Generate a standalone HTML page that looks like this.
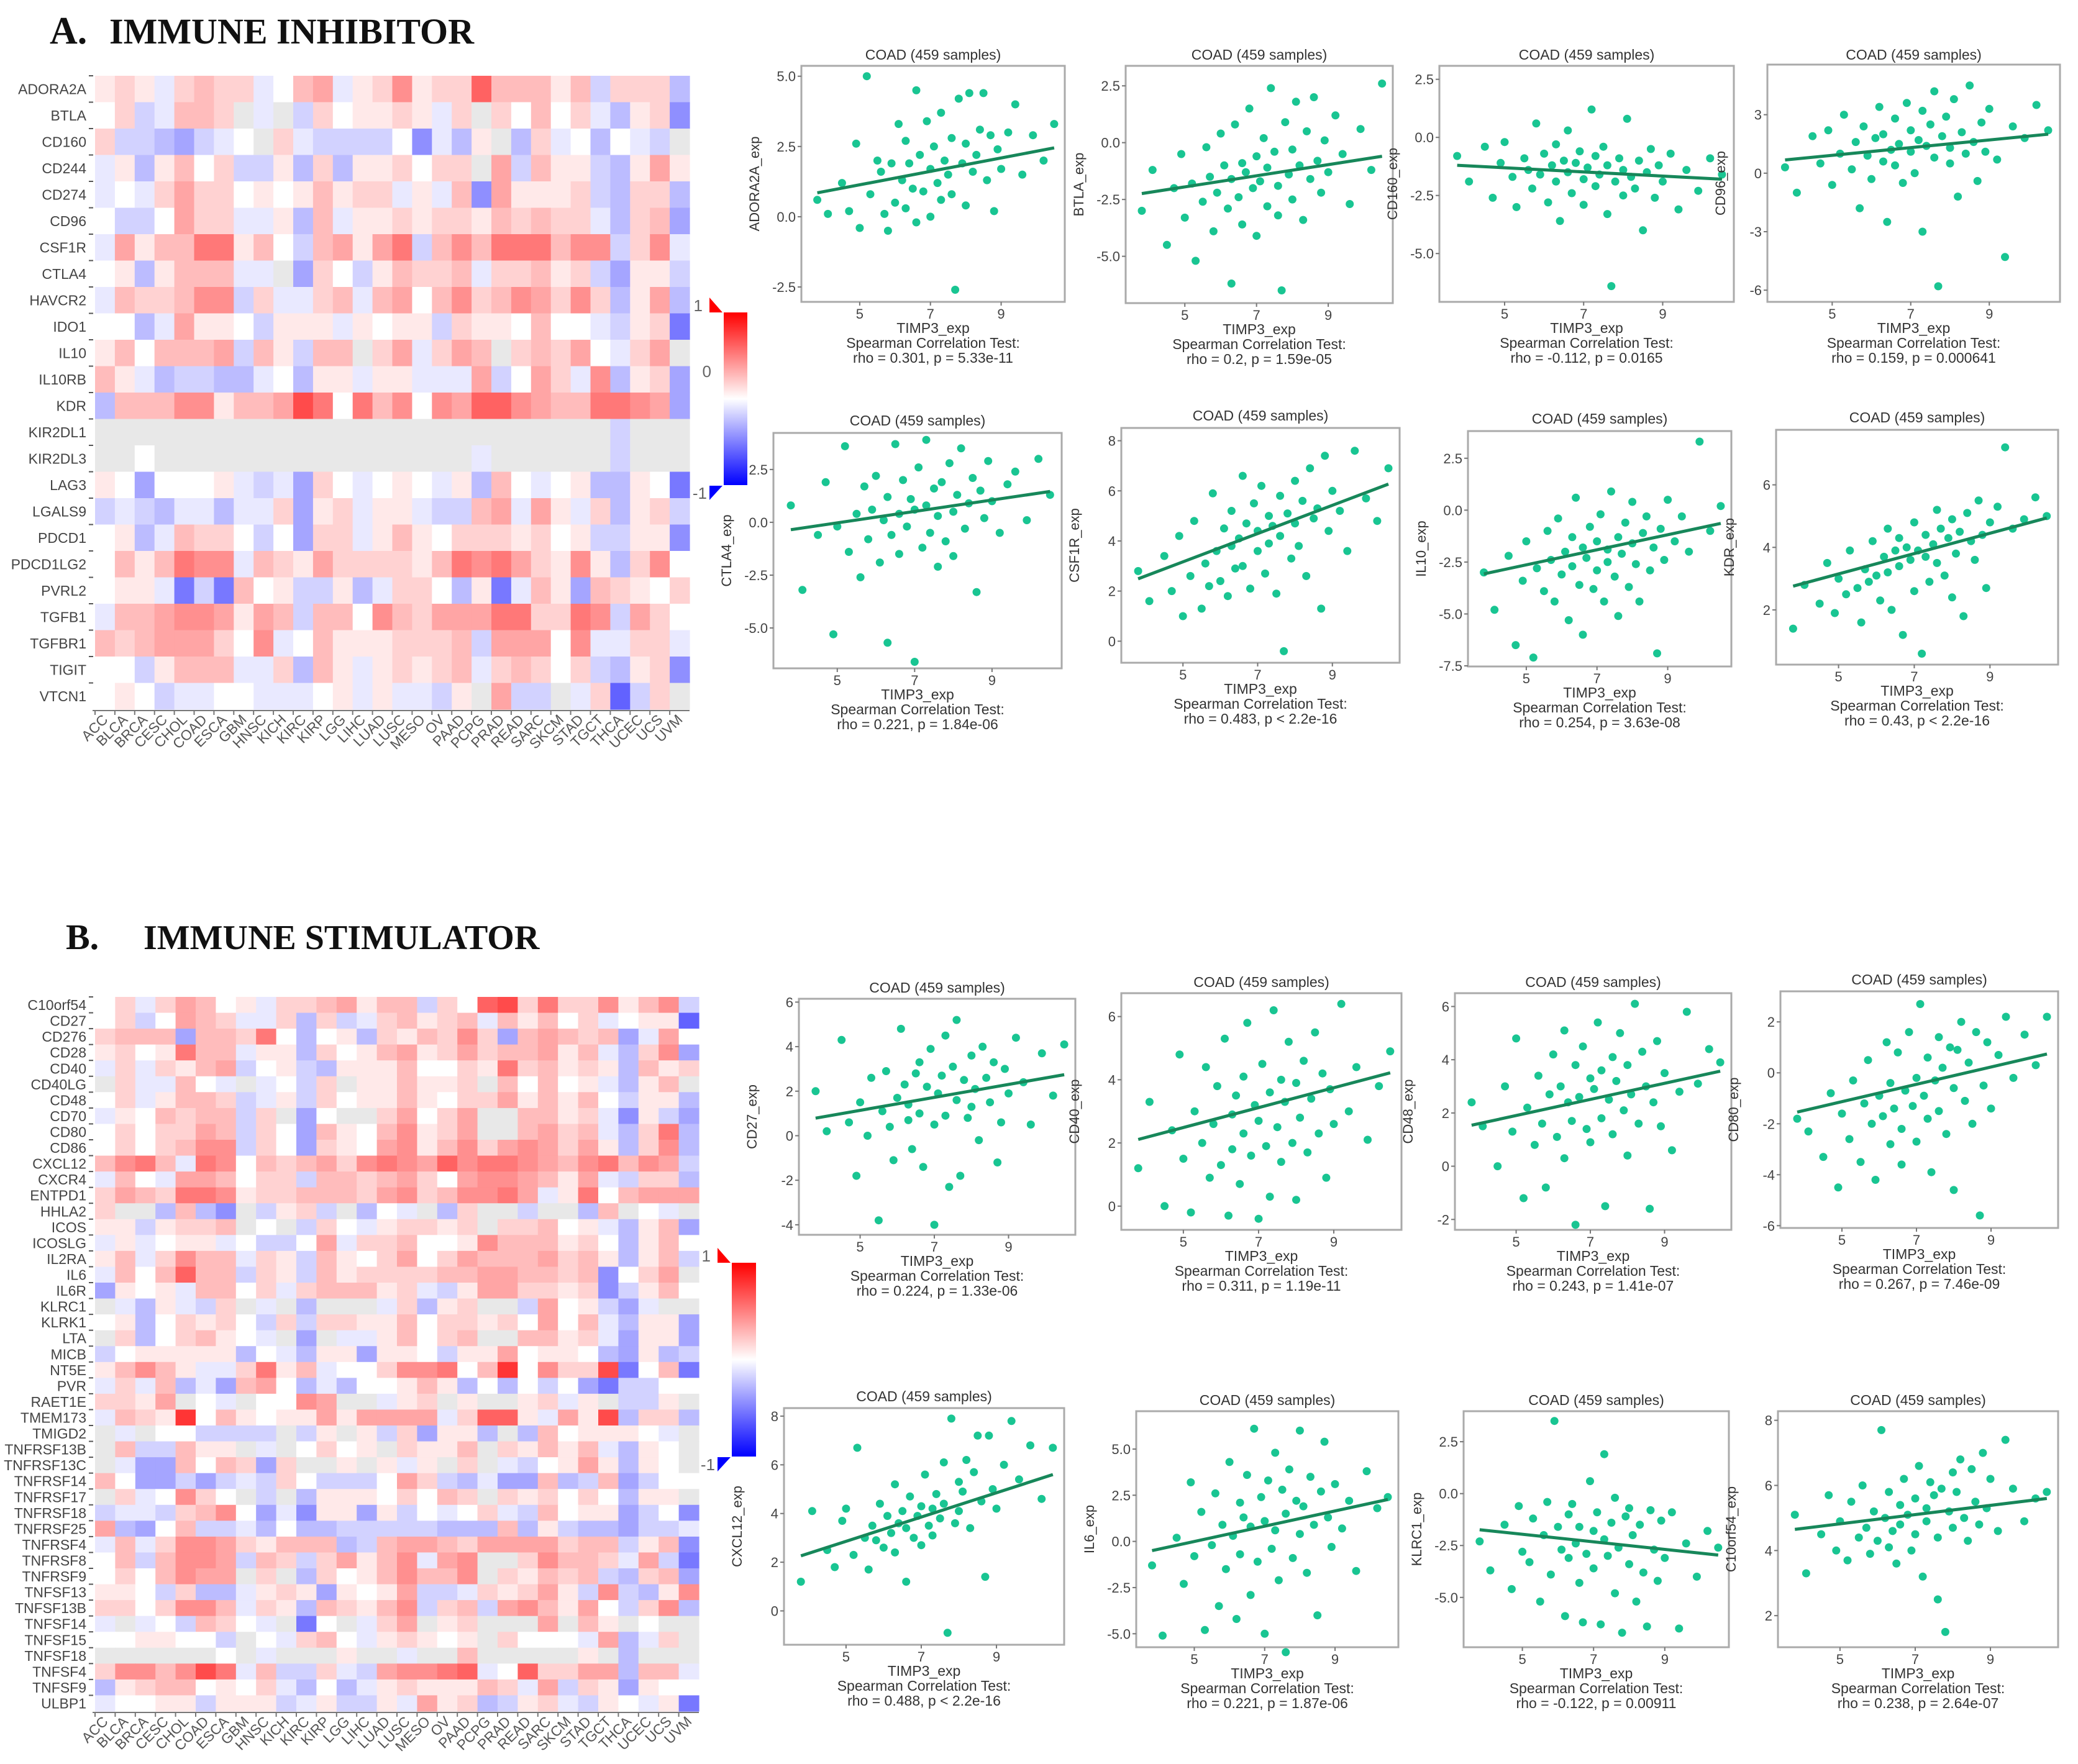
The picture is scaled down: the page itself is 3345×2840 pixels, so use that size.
<!DOCTYPE html>
<html><head><meta charset="utf-8"><style>
html,body{margin:0;padding:0;background:#fff;}
svg{display:block;font-family:"Liberation Sans",sans-serif;}
</style></head><body>
<svg id="fig" width="3345" height="2840" viewBox="0 0 3345 2840" xmlns="http://www.w3.org/2000/svg">
<rect width="3345" height="2840" fill="#fff"/>
<g font-family="Liberation Serif,serif" font-weight="bold" fill="#111">
<text x="80" y="70" font-size="62">A.</text>
<text x="176" y="70" font-size="58">IMMUNE  INHIBITOR</text>
</g>
<g font-family="Liberation Serif,serif" font-weight="bold" fill="#111">
<text x="106" y="1528" font-size="58">B.</text>
<text x="231" y="1528" font-size="56">IMMUNE  STIMULATOR</text>
</g>
<defs>
<linearGradient id="cbg" x1="0" y1="0" x2="0" y2="1">
<stop offset="0" stop-color="#ff0000"/><stop offset="0.5" stop-color="#ffffff"/><stop offset="1" stop-color="#0000ff"/>
</linearGradient>
</defs>
<g id="layer"></g>
</svg>
<script>
// ---------- Heatmap data ----------
const cancers = ["ACC","BLCA","BRCA","CESC","CHOL","COAD","ESCA","GBM","HNSC","KICH","KIRC","KIRP","LGG","LIHC","LUAD","LUSC","MESO","OV","PAAD","PCPG","PRAD","READ","SARC","SKCM","STAD","TGCT","THCA","UCEC","UCS","UVM"];
const inhibGenes = ["ADORA2A","BTLA","CD160","CD244","CD274","CD96","CSF1R","CTLA4","HAVCR2","IDO1","IL10","IL10RB","KDR","KIR2DL1","KIR2DL3","LAG3","LGALS9","PDCD1","PDCD1LG2","PVRL2","TGFB1","TGFBR1","TIGIT","VTCN1"];
// codes: '0'-'9' => +0..+0.9 ; 'a'-'i' => -0.1..-0.9 ; 'x' => NA (grey)
const inhibValues = [
"121a2322a034a125122733313b222c",
"02ba332xaxb201121a2x20302ac12e",
"2bbcdba0x2abbbb0eac1xc2a0c0abx",
"a1c1302bb1c2c112022x4b311bc141",
"a0a242201013122a1a3e41112bc22c",
"0bb0422aa1c3a112122132322ac23d",
"a413366130b34146b353666355b25a",
"01c1333aaxd20b13223a22312bd11b",
"a322355b2aa23a340352354252c14c",
"00ca4110b111a1011b2110300ab12f",
"1303334b31b33x24a243x23240a24x",
"31acbbcca0c11a11aaa4b042a5c12d",
"c3335513348606350547754336654d",
"xxxxxxxxxxxxxxxxxxxxxxxxxxbxxx",
"xx0xxxxxxxxxxxxxxxxaxxxxxxbxxx",
"10d0001abad20a010a1c30a01cc10f",
"babcaacaa2d12a11abb34a41a2c12b",
"01ca3220b0d22a13102221201bb11e",
"0313655a321422221365642151c250",
"011afbf301bb1ca220c1fa31d32102",
"a334554143b330532444662265b420",
"323444205a031112223b44405aa22a",
"00b1333aa2c31a12123a23202bc12e",
"010baa00aaa01a1aab1x4bbxa2gb2x"];
const stimGenes = ["C10orf54","CD27","CD276","CD28","CD40","CD40LG","CD48","CD70","CD80","CD86","CXCL12","CXCR4","ENTPD1","HHLA2","ICOS","ICOSLG","IL2RA","IL6","IL6R","KLRC1","KLRK1","LTA","MICB","NT5E","PVR","RAET1E","TMEM173","TMIGD2","TNFRSF13B","TNFRSF13C","TNFRSF14","TNFRSF17","TNFRSF18","TNFRSF25","TNFRSF4","TNFRSF8","TNFRSF9","TNFSF13","TNFSF13B","TNFSF14","TNFSF15","TNFSF18","TNFSF4","TNFSF9","ULBP1"];
const stimValues = [
"02a24301a2234133b207826225135b",
"02b0432aa2c2ba23123a31302a011g",
"2333d33260c01c213252d34323da40",
"1201633a11c20134124233413ac25d",
"a2a2134b01bc11130021623121c312",
"x2aa30axa0b2x113112x30301ac13x",
"02a1332ba1b201131022413130b11c",
"a103233b2xd0xx24024xx3312ae1bd",
"0202243b20d31035124xx3423ac26c",
"0202355b20d210451352454241c25c",
"3563a650323425654756654356354b",
"a30a443022b33234204554314ab22c",
"2432665122333245235564a1603444",
"2xxc3cexb12bxc0axc2xxbxxc3x0ax",
"11b1223x0xb20a12212x22301ac13d",
"a1a011a0bb04a2230015333120c130",
"13a2533a21b310240243334231c13b",
"a303733b21b31222233443323e024x",
"d101a3302a233312ab1442212eb130",
"xac1ab2xaxcxxxa2c12xxb401bdaxx",
"01c02120b2b22113022120403ac11d",
"x2c02310axdxaa13023xx3312ad11d",
"b011111c0ac11d110b1140110cd1cb",
"13531aa2613a00255603905228f03f",
"a2a3cad340cac00131c0c0b0dfbb00",
"2214x0ax0054xxa12x1xx12a1xbb1x",
"a3219031011414444a2771a418c22c",
"xax00bbbbxb1x1b2d11cxc301110ax",
"x3bb311xax0201x2113x21313ac10x",
"xadd3032d2xx1x1a1x2xab0141c10x",
"30ddbdbab20bbb042bcadd3cb3db00",
"x2a0520xbxc11102032x212020c11x",
"baab2350dae11d1b0a02ab3011db0e",
"4cd03bbac0ccbbbbbccc3c1bccdbba",
"a3a255421333cb344324444233b13e",
"03b3554b32b24135a45xx25332a4bf",
"0203544x2xc20135335x21323bc23d",
"110b2cca121d1014bba21241b5bc15",
"2202553a21c32135b23b453140b25c",
"axa0b320axf0xa24x12xxx4x31x0xx",
"001100bx0a230a12101x2000a4ca2x",
"xxxxxx0xaxxx1xxaxx3xxxxx1xcxxx",
"2553586a3bb2ab45567a072244c33a",
"c12330102ac0ca1211132a4b21d100",
"a0011b111ba1bb1a412cb12ab10a1f"];

// ---------- Scatter data ----------
const timp3 = [3.8,4.1,4.5,4.7,4.9,5.0,5.2,5.3,5.5,5.6,5.7,5.8,5.9,6.0,6.1,6.2,6.3,6.3,6.4,6.5,6.6,6.6,6.7,6.8,6.9,7.0,7.0,7.1,7.2,7.3,7.3,7.4,7.5,7.6,7.6,7.7,7.8,7.9,8.0,8.0,8.1,8.2,8.3,8.4,8.5,8.6,8.7,8.8,8.9,9.0,9.2,9.4,9.6,9.9,10.2,10.5];
const yADORA2A = [0.6,0.1,1.2,0.2,2.6,-0.4,5.0,0.8,2.0,1.6,0.1,-0.5,1.9,0.5,3.3,1.3,2.7,0.3,1.9,1.0,4.5,-0.2,2.2,0.9,3.4,1.7,0.0,2.5,1.2,3.7,0.6,2.0,1.5,2.8,0.8,-2.6,4.2,1.9,0.4,2.6,4.4,1.6,2.2,3.1,4.4,1.3,2.9,0.2,2.4,1.7,3.0,4.0,1.5,2.9,2.0,3.3];
const yBTLA = [-3.0,-1.2,-4.5,-2.0,-0.5,-3.3,-1.8,-5.2,-2.6,-0.2,-1.5,-3.9,-2.2,0.4,-1.0,-2.9,-6.2,-1.6,0.8,-2.4,-0.9,-3.6,-1.3,1.5,-2.0,-0.6,-4.1,-1.7,0.2,-2.8,-1.1,2.4,-0.4,-3.2,-1.9,-6.5,0.9,-1.4,-2.5,-0.3,1.8,-1.0,-3.4,0.5,-1.6,2.0,-0.8,-2.2,0.1,-1.3,1.2,-0.5,-2.7,0.6,-1.2,2.6];
const yCD160 = [-0.8,-1.9,-0.4,-2.6,-1.1,-0.2,-1.7,-3.0,-0.9,-1.4,-2.2,0.6,-1.6,-0.7,-2.8,-1.2,-0.3,-1.9,-3.6,-1.0,-1.5,0.3,-2.4,-1.1,-0.6,-1.8,-2.9,-1.3,1.2,-0.8,-2.1,-1.6,-0.4,-3.3,-1.2,-6.4,-1.9,-0.9,-2.5,-1.4,0.8,-1.7,-2.2,-1.0,-4.0,-1.5,-0.5,-2.6,-1.2,-1.9,-0.7,-3.1,-1.4,-2.3,-0.9,-1.6];
const yCD96 = [0.3,-1.0,1.9,0.5,2.2,-0.6,1.0,3.0,0.2,1.6,-1.8,2.4,0.9,-0.3,1.8,3.4,0.6,2.0,-2.5,1.2,2.8,0.4,1.5,-0.5,3.6,1.1,2.2,0.0,1.7,3.2,-3.0,1.4,2.5,0.8,4.2,-5.8,1.9,2.9,0.5,1.3,3.8,-1.2,2.1,1.0,4.5,1.6,-0.4,2.6,1.1,3.3,0.7,-4.3,2.4,1.8,3.5,2.2];
const yCTLA4 = [0.8,-3.2,-0.6,1.9,-5.3,-0.2,3.6,-1.4,0.4,-2.6,1.7,-0.8,0.6,2.2,-1.9,0.1,-5.7,1.2,-0.6,3.7,0.4,-1.5,2.0,-0.2,1.1,-6.6,0.6,2.6,-1.2,0.8,3.9,-0.5,1.6,-2.1,0.3,1.9,-0.9,2.8,0.5,-1.6,1.3,3.5,-0.3,0.9,2.1,-3.3,1.5,0.2,2.9,1.0,-0.5,1.8,2.4,0.1,3.0,1.3];
const yCSF1R = [2.8,1.6,3.4,2.0,4.2,1.0,2.6,4.8,1.3,3.1,2.2,5.9,3.6,2.4,4.5,1.8,3.8,5.2,2.9,4.1,6.6,3.0,4.7,2.1,5.5,3.6,4.4,6.2,2.7,5.0,3.9,4.6,1.9,5.8,4.2,-0.4,5.1,3.3,6.4,4.7,3.8,5.6,2.6,6.9,4.9,5.3,1.3,7.4,4.4,6.0,5.2,3.6,7.6,5.7,4.8,6.9];
const yIL10 = [-3.0,-4.8,-2.2,-6.5,-3.4,-1.5,-7.1,-2.8,-3.9,-1.0,-2.4,-4.4,-0.4,-3.1,-2.0,-5.3,-1.3,-2.7,0.6,-3.6,-1.8,-6.0,-2.3,-0.8,-3.8,-1.5,-2.9,-0.2,-4.4,-1.9,-2.5,0.9,-3.2,-1.3,-5.1,-2.1,-0.6,-3.7,-1.6,0.4,-2.6,-4.4,-1.1,-0.3,-2.9,-1.8,-6.9,-0.9,-2.4,0.5,-1.5,-0.3,-2.0,3.3,-1.0,0.2];
const yKDR = [1.4,2.8,2.2,3.5,1.9,3.0,2.5,3.9,2.7,1.6,3.3,2.9,4.2,3.1,2.3,3.7,4.6,3.2,2.0,3.9,4.3,3.4,1.2,4.0,3.6,4.8,2.6,3.9,0.6,4.4,3.7,2.9,4.1,5.2,3.5,4.6,3.1,4.3,2.4,4.9,3.8,4.5,1.8,5.1,4.2,3.6,5.5,4.4,2.7,4.8,5.3,7.2,4.6,4.9,5.6,5.0];
const yCD27 = [2.0,0.2,4.3,0.6,-1.8,1.5,0.0,2.6,-3.8,1.1,2.9,0.4,-1.1,1.7,4.8,2.3,0.7,1.4,-0.6,2.8,3.3,1.0,-1.4,2.2,3.9,0.5,-4.0,1.9,2.7,4.5,0.9,-2.3,3.1,1.6,5.2,-1.8,2.5,0.8,3.6,1.3,2.1,-0.2,4.0,2.6,1.5,3.3,-1.2,0.6,3.0,1.9,4.4,2.4,0.5,3.7,1.8,4.1];
const yCD40 = [1.2,3.3,0.0,2.4,4.8,1.5,-0.2,3.0,2.0,4.4,0.9,2.6,3.8,1.3,5.3,-0.3,2.9,1.8,3.5,0.7,4.1,2.3,5.8,1.6,3.2,-0.4,2.7,4.5,1.9,3.6,0.3,6.2,2.5,4.0,1.4,3.3,5.2,2.0,3.9,0.2,2.8,4.6,1.7,3.4,5.5,2.3,4.2,0.9,3.7,2.6,6.4,3.0,4.4,2.1,3.8,4.9];
const yCD48 = [2.4,1.5,0.0,3.0,1.3,4.8,-1.2,2.2,0.8,3.4,1.6,-0.8,2.7,4.2,1.1,3.0,0.3,5.1,2.4,1.7,3.8,-2.2,2.6,4.5,1.4,3.3,0.9,2.9,5.4,1.8,3.6,-1.5,2.5,4.1,1.2,3.2,5.0,2.1,0.4,3.8,2.7,6.1,1.6,4.3,3.0,-1.6,2.4,4.7,1.5,3.5,0.6,2.8,5.8,3.1,4.4,3.9];
const yCD80 = [-1.8,-2.3,-3.3,-0.8,-4.5,-1.6,-2.6,-0.3,-3.5,-1.2,0.5,-2.0,-4.2,-0.9,-1.7,1.2,-2.8,-0.4,-1.4,0.8,-2.2,-3.6,-0.7,1.6,-1.3,-0.2,-2.7,2.7,-0.9,-1.8,0.6,-3.9,-0.3,1.4,-1.5,0.2,-2.4,1.0,-0.6,-4.6,0.9,2.0,-1.1,0.4,-2.0,1.6,-5.6,-0.5,1.2,-1.4,0.7,2.2,-0.2,1.5,0.3,2.2];
const yCXCL12 = [1.2,4.1,2.5,1.8,3.7,4.2,2.3,6.7,3.0,1.7,3.5,2.9,4.4,2.6,3.9,3.2,5.2,2.4,3.6,4.1,1.2,3.4,4.7,3.0,3.9,4.3,2.7,5.6,3.5,4.2,3.1,4.8,3.8,6.1,4.4,-0.9,7.9,3.6,5.3,4.1,4.9,6.2,3.4,5.7,7.2,4.5,1.4,7.2,5.0,4.2,6.0,7.8,5.4,6.8,4.6,6.7];
const yIL6 = [-1.3,-5.1,0.2,-2.3,3.2,-0.8,1.6,-4.8,-0.2,2.6,-3.5,0.9,-1.5,4.3,0.3,-4.2,2.1,-0.7,1.3,3.6,-2.9,0.8,6.1,-1.1,2.4,-5.0,1.1,3.3,-0.4,4.8,0.6,-2.1,2.8,-6.0,1.5,3.9,-0.9,2.2,0.4,6.0,1.9,-1.7,3.5,0.9,-4.0,2.7,5.4,1.3,-0.3,3.1,0.7,2.2,-1.6,3.8,1.8,2.4];
const yKLRC1 = [-2.3,-3.7,-1.5,-4.6,-0.6,-2.8,-3.3,-1.2,-5.2,-2.0,-0.4,-3.9,3.5,-1.6,-2.7,-5.9,-1.0,-3.1,-0.5,-2.4,-4.3,-1.6,-6.2,-2.9,0.6,-1.8,-3.6,-0.9,-6.3,-2.2,1.9,-3.0,-1.4,-4.8,-0.2,-2.6,-6.7,-1.1,-3.4,-0.7,-2.0,-5.2,-1.5,-3.8,-6.4,-0.8,-2.7,-4.2,-1.3,-3.1,-0.9,-6.5,-2.4,-4.0,-1.8,-2.6];
const yC10orf54 = [5.1,3.3,4.5,5.7,4.0,4.9,3.7,5.5,4.4,6.0,4.7,3.9,5.2,4.3,7.7,5.0,4.1,5.8,4.6,3.6,5.4,4.8,6.2,5.1,4.0,5.6,4.5,6.6,3.2,5.3,4.9,6.1,5.7,4.4,2.5,5.9,1.5,5.2,6.4,4.7,5.8,6.8,5.0,4.3,6.5,5.5,4.8,7.0,5.3,6.2,4.6,7.4,5.9,4.9,5.6,5.8];
// regression line endpoint values (at TIMP3 = 3.8 and 10.5)
const fitStart = [0.85,-2.24,-1.2,0.68,-0.35,2.49,-3.07,2.76,0.79,2.11,1.54,-1.54,2.26,-0.5,-1.74,4.65];
const fitEnd   = [2.45,-0.6,-1.8,2.0,1.46,6.27,-0.64,4.94,2.74,4.22,3.57,0.74,5.6,2.27,-2.96,5.6];
const rhoText = ["rho = 0.301, p = 5.33e-11","rho = 0.2, p = 1.59e-05","rho = -0.112, p = 0.0165","rho = 0.159, p = 0.000641",
"rho = 0.221, p = 1.84e-06","rho = 0.483, p < 2.2e-16","rho = 0.254, p = 3.63e-08","rho = 0.43, p < 2.2e-16",
"rho = 0.224, p = 1.33e-06","rho = 0.311, p = 1.19e-11","rho = 0.243, p = 1.41e-07","rho = 0.267, p = 7.46e-09",
"rho = 0.488, p < 2.2e-16","rho = 0.221, p = 1.87e-06","rho = -0.122, p = 0.00911","rho = 0.238, p = 2.64e-07"];
const yNames = ["ADORA2A","BTLA","CD160","CD96","CTLA4","CSF1R","IL10","KDR","CD27","CD40","CD48","CD80","CXCL12","IL6","KLRC1","C10orf54"];
const ySeries = [yADORA2A,yBTLA,yCD160,yCD96,yCTLA4,yCSF1R,yIL10,yKDR,yCD27,yCD40,yCD48,yCD80,yCXCL12,yIL6,yKLRC1,yC10orf54];
const yDomains = [[-3.03,5.37],[-7.06,3.38],[-7.08,3.08],[-6.6,5.57],[-6.91,4.23],[-0.86,8.51],[-7.53,3.81],[0.25,7.76],
[-4.45,6.15],[-0.75,6.74],[-2.39,6.5],[-6.09,3.2],[-1.39,8.33],[-5.73,7.05],[-7.4,3.97],[1.03,8.28]];
const yTicks = [["-2.5","0.0","2.5","5.0"],["-5.0","-2.5","0.0","2.5"],["-5.0","-2.5","0.0","2.5"],["-6","-3","0","3"],
["-5.0","-2.5","0.0","2.5"],["0","2","4","6","8"],["-7.5","-5.0","-2.5","0.0","2.5"],["2","4","6"],
["-4","-2","0","2","4","6"],["0","2","4","6"],["-2","0","2","4","6"],["-6","-4","-2","0","2"],
["0","2","4","6","8"],["-5.0","-2.5","0.0","2.5","5.0"],["-5.0","-2.5","0.0","2.5"],["2","4","6","8"]];
const xTicks = ["5","7","9"];
const xDomain = [3.35,10.8];

const NS="http://www.w3.org/2000/svg";
const layer=document.getElementById('layer');
function mk(tag,attrs,parent){const e=document.createElementNS(NS,tag);for(const k in attrs)e.setAttribute(k,attrs[k]);(parent||layer).appendChild(e);return e;}
function code2val(c){if(c==='x')return null;if(c>='0'&&c<='9')return (c.charCodeAt(0)-48)/10;return -(c.charCodeAt(0)-96)/10;}
function valColor(v){if(v===null)return '#e8e8e8';const t=Math.min(1,Math.abs(v)*0.88);const c=Math.round(255*(1-t));
 return v>=0?`rgb(255,${c},${c})`:`rgb(${c},${c},255)`;}

function heatmap(name,genes,rows,x0,x1,y0,y1,fs,labFs){
 const g=mk('g',{});
 
 
 const cw=(x1-x0)/cancers.length, ch=(y1-y0)/genes.length;
 const xs=i=>x0+i*cw, ys=j=>y0+j*ch;
 genes.forEach((gname,j)=>{
  const r=rows[j];
  for(let i=0;i<cancers.length;i++){
   const v=code2val(r[i]||'0');
   const c=mk('rect',{x:xs(i).toFixed(2),y:ys(j).toFixed(2),width:(cw+0.6).toFixed(2),height:(ch+0.6).toFixed(2),fill:valColor(v)},g);
   
   
  }
  const t=mk('text',{x:x0-14,y:(ys(j)+ch/2+fs*0.36).toFixed(1),'text-anchor':'end','font-size':fs,fill:'#444'},g);
  t.textContent=gname;
  
  
  mk('line',{x1:x0-10,x2:x0-3,y1:ys(j),y2:ys(j),stroke:'#555','stroke-width':2},g);
 });
 mk('line',{x1:x0-4,x2:x1,y1:y1+2,y2:y1+2,stroke:'#777','stroke-width':2},g);
 cancers.forEach((c,i)=>{
  const cx=xs(i)+cw/2;
  mk('line',{x1:xs(i),x2:xs(i),y1:y1+2,y2:y1+9,stroke:'#777','stroke-width':2},g);
  const t=mk('text',{x:cx+6,y:y1+18,'text-anchor':'end','font-size':labFs,fill:'#555',transform:`rotate(-45 ${cx+6} ${y1+18})`},g);
  t.textContent=c;
  
  
 });
}
heatmap('heatmap-immune-inhibitor',inhibGenes,inhibValues,153,1110,122,1142,23,23);
heatmap('heatmap-immune-stimulator',stimGenes,stimValues,153,1125,1605,2755,23,23);

function colorbar(name,x0,x1,y0,y1,showZero){
 const g=mk('g',{});
 
 
 mk('rect',{x:x0,y:y0,width:x1-x0,height:y1-y0,fill:'url(#cbg)'},g);
 mk('polygon',{points:`${x0-23},${y0-24} ${x0-2},${y0} ${x0-23},${y0}`,fill:'#ff0000'},g);
 mk('polygon',{points:`${x0-23},${y1+1} ${x0-2},${y1+1} ${x0-23},${y1+24}`,fill:'#0000ff'},g);
 const a=mk('text',{x:x0-34,y:y0-2,'font-size':26,fill:'#666','text-anchor':'end'},g);a.textContent='1';
 const b=mk('text',{x:x0-27,y:y1+22,'font-size':26,fill:'#666','text-anchor':'end'},g);b.textContent='-1';
 if(showZero){const z=mk('text',{x:x0-20,y:(y0+y1)/2-35,'font-size':26,fill:'#666','text-anchor':'end'},g);z.textContent='0';}
}
colorbar('colorbar-a',1165,1203,503,781,true);
colorbar('colorbar-b',1178,1217,2033,2345,false);

// scatter panels: [left,right,top,bottom,titleY]
const boxes=[
[1290,1714,106,486,88],[1812,2242,106,488,88],[2317,2791,106,486,88],[2845,3316,104,486,88],
[1245,1709,697,1076,677],[1805,2253,689,1067,669],[2363,2787,694,1073,674],[2859,3313,692,1070,672],
[1286,1731,1608,1988,1590],[1805,2256,1599,1980,1581],[2342,2787,1599,1980,1581],[2866,3313,1596,1977,1577],
[1262,1713,2267,2648,2248],[1829,2251,2272,2652,2254],[2356,2783,2272,2652,2254],[2862,3313,2272,2652,2254]];

boxes.forEach((b,k)=>{
 const [L,R,T,B,TY]=b;
 const g=mk('g',{});
 
 
 const dom=yDomains[k];
 const sx=v=>L+(v-xDomain[0])/(xDomain[1]-xDomain[0])*(R-L);
 const sy=v=>B-(v-dom[0])/(dom[1]-dom[0])*(B-T);
 mk('rect',{x:L,y:T,width:R-L,height:B-T,fill:'#fff',stroke:'#aaa','stroke-width':3},g);
 const tt=mk('text',{x:(L+R)/2,y:TY+8,'text-anchor':'middle','font-size':23,fill:'#333'},g);
 tt.textContent='COAD (459 samples)';
 
 
 yTicks[k].forEach(s=>{const v=parseFloat(s);const y=sy(v);
  mk('line',{x1:L-6,x2:L,y1:y,y2:y,stroke:'#777','stroke-width':2},g);
  const t=mk('text',{x:L-9,y:y+8,'text-anchor':'end','font-size':22,fill:'#444'},g);t.textContent=s;});
 xTicks.forEach(s=>{const v=parseFloat(s);const x=sx(v);
  mk('line',{x1:x,x2:x,y1:B,y2:B+6,stroke:'#777','stroke-width':2},g);
  const t=mk('text',{x:x,y:B+27,'text-anchor':'middle','font-size':22,fill:'#444'},g);t.textContent=s;});
 const yl=mk('text',{x:0,y:0,'text-anchor':'middle','font-size':22,fill:'#333',transform:`translate(${L-68},${(T+B)/2}) rotate(-90)`},g);
 yl.textContent=yNames[k]+'_exp';
 
 
 const lines=['TIMP3_exp','Spearman Correlation Test:',rhoText[k]];
 lines.forEach((s,i)=>{const t=mk('text',{x:(L+R)/2,y:B+50+i*24,'text-anchor':'middle','font-size':23,fill:'#333'},g);t.textContent=s;
  
  });
 const ys=ySeries[k];
 timp3.forEach((xv,i)=>{
  const c=mk('circle',{cx:sx(xv).toFixed(1),cy:sy(ys[i]).toFixed(1),r:6.5,fill:'#19c592'},g);
  
  
 });
 const ln=mk('line',{x1:sx(3.8),y1:sy(fitStart[k]),x2:sx(10.5),y2:sy(fitEnd[k]),stroke:'#17875a','stroke-width':5},g);
 
 
});
</script>
</body></html>
